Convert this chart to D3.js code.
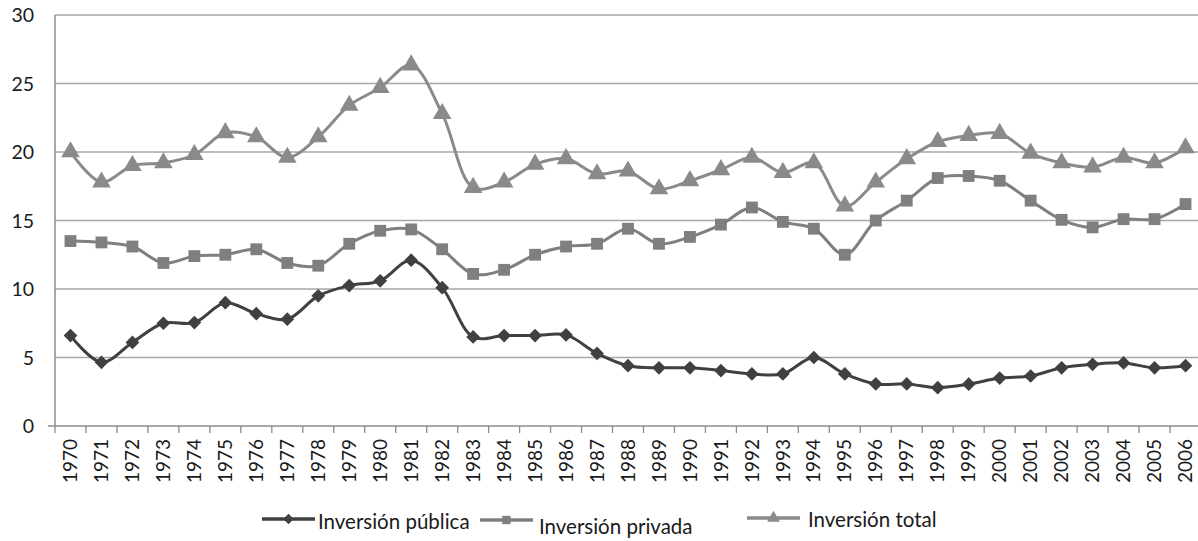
<!DOCTYPE html>
<html><head><meta charset="utf-8">
<script src="https://cdn.jsdelivr.net/npm/d3@7"></script>
<style>body{margin:0;background:#fff}svg{display:block}text{font-family:Lato,"Open Sans",sans-serif}</style>
</head><body><svg id="c" width="1198" height="541"></svg>
<script>
const years = d3.range(1970, 2007).map(String);
const publica = [6.6,4.65,6.1,7.5,7.55,9.0,8.2,7.8,9.5,10.25,10.6,12.1,10.1,6.5,6.6,6.6,6.65,5.3,4.4,4.25,4.25,4.05,3.8,3.8,5.0,3.8,3.07,3.07,2.8,3.05,3.5,3.65,4.25,4.5,4.6,4.25,4.4];
const privada = [13.5,13.4,13.1,11.9,12.4,12.5,12.9,11.9,11.7,13.3,14.25,14.35,12.9,11.1,11.4,12.5,13.1,13.3,14.4,13.3,13.8,14.7,15.95,14.9,14.4,12.5,15.0,16.45,18.1,18.25,17.9,16.45,15.05,14.5,15.1,15.1,16.2];
const total = [20.0,17.8,19.0,19.2,19.8,21.4,21.1,19.6,21.1,23.4,24.7,26.35,22.8,17.4,17.8,19.1,19.5,18.4,18.6,17.3,17.9,18.7,19.6,18.5,19.2,16.05,17.8,19.5,20.75,21.2,21.35,19.9,19.2,18.9,19.6,19.2,20.3];
const yTicks = [0,5,10,15,20,25,30];
const seriesNames = ["Inversión pública","Inversión privada","Inversión total"];

const svg = d3.select("#c");
const x = d3.scaleBand().domain(years).range([55, 1201]).paddingInner(0).paddingOuter(0);
const y = d3.scaleLinear().domain([0,30]).range([426, 15]);

// gridlines
svg.append("g").selectAll("line").data(yTicks.filter(t=>t>0)).join("line")
  .attr("x1",55).attr("x2",1201).attr("y1",d=>y(d)).attr("y2",d=>y(d))
  .attr("stroke","#a6a6a6").attr("stroke-width",1.3);

// y axis
const ya = svg.append("g").attr("transform","translate(55,0)")
  .call(d3.axisLeft(y).tickValues(yTicks).tickSize(7).tickPadding(14));
ya.select(".domain").attr("stroke","#8c8c8c").attr("stroke-width",1.5).attr("d","M0,"+y(30)+"V"+y(0));
ya.selectAll(".tick line").attr("stroke","none");
ya.selectAll("text").attr("font-size",19.5).attr("fill","#1a1a1a").attr("dy","0.35em");

// x axis
const xa = svg.append("g").attr("transform","translate(0,426)")
  .call(d3.axisBottom(x).tickSize(0));
xa.select(".domain").attr("stroke","#8c8c8c").attr("stroke-width",1.5).attr("d","M48,0H1201");
xa.selectAll("text").attr("font-size",19).attr("fill","#1a1a1a")
  .attr("transform","rotate(-90)").attr("text-anchor","end").attr("x",-13).attr("y",0).attr("dy","0.35em");
// band boundary ticks
svg.append("g").selectAll("line").data(years).join("line")
  .attr("x1",d=>x(d)).attr("x2",d=>x(d)).attr("y1",426).attr("y2",433)
  .attr("stroke","#8c8c8c").attr("stroke-width",1.3);

const cx = d => x(d) + x.bandwidth()/2;
const line = d3.line().x(d=>cx(d[0])).y(d=>y(d[1])).curve(d3.curveCatmullRom.alpha(0.5));

const defs = [
  {vals: publica, color:"#404040", marker:"diamond"},
  {vals: privada, color:"#7f7f7f", marker:"square"},
  {vals: total, color:"#8a8a8a", marker:"triangle"}
];
const sym = {diamond: d3.symbol().type(d3.symbolDiamond2).size(120)(),
             square: d3.symbol().type(d3.symbolSquare).size(140)(),
             triangle: d3.symbol().type(d3.symbolTriangle).size(150)()};

defs.forEach(s=>{
  const pts = years.map((yr,i)=>[yr,s.vals[i]]);
  svg.append("path").datum(pts).attr("d",line).attr("fill","none")
    .attr("stroke",s.color).attr("stroke-width",3);
  svg.append("g").selectAll("path").data(pts).join("path")
    .attr("d",sym[s.marker]).attr("fill",s.color)
    .attr("transform",d=>`translate(${cx(d[0])},${y(d[1])})`);
});

// legend
const leg = [
  {x1:262,x2:315,ty:522,ly:519,tx:318},
  {x1:480,x2:533,ty:527,ly:520,tx:539},
  {x1:747,x2:800,ty:520,ly:518,tx:808}
];
leg.forEach((l,i)=>{
  const s = defs[i];
  svg.append("line").attr("x1",l.x1).attr("x2",l.x2).attr("y1",l.ly).attr("y2",l.ly)
    .attr("stroke",s.color).attr("stroke-width",3.5);
  svg.append("path").attr("d",d3.symbol().type(i==0?d3.symbolDiamond2:i==1?d3.symbolSquare:d3.symbolTriangle).size(70)())
    .attr("fill",s.color).attr("transform",`translate(${(l.x1+l.x2)/2},${l.ly})`);
  svg.append("text").attr("x",l.tx).attr("y",l.ty).attr("dy","0.35em").attr("font-size",20.5)
    .attr("fill","#1a1a1a").text(seriesNames[i]);
});
</script></body></html>
